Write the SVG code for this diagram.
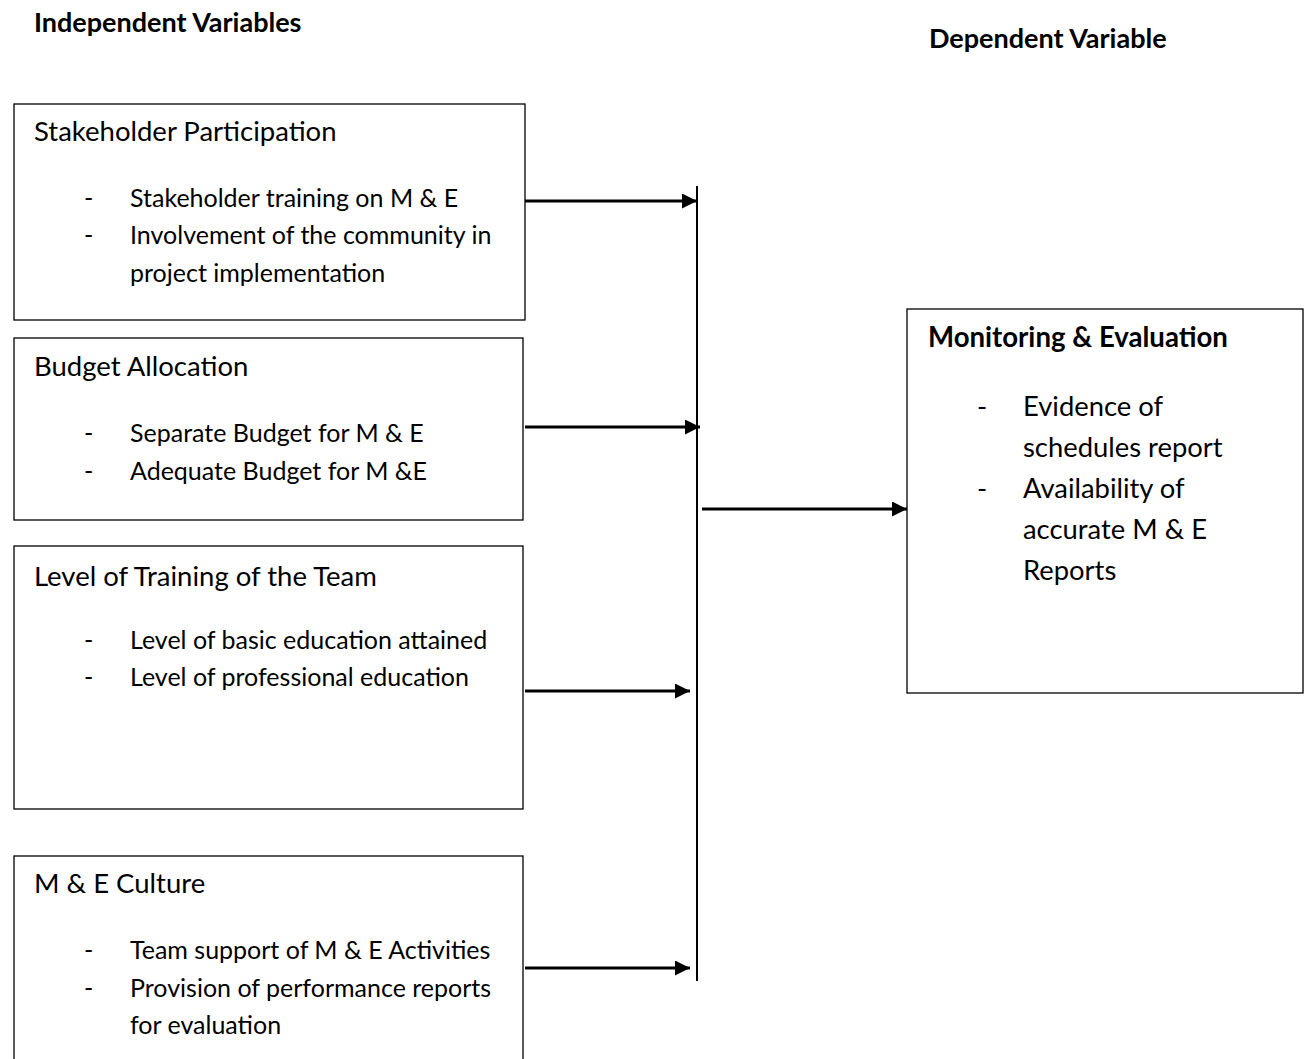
<svg xmlns="http://www.w3.org/2000/svg" width="1309" height="1059" viewBox="0 0 1309 1059">
<defs>
<style>
.box{fill:#fff;stroke:#000;stroke-width:1.3}
.t{font-family:Lato,"Open Sans",sans-serif;font-size:25px;fill:#000}
.tt{font-family:Lato,"Open Sans",sans-serif;font-size:27.5px;fill:#000}
.r{font-family:Lato,"Open Sans",sans-serif;font-size:27.4px;fill:#000}
.h{font-family:Lato,"Open Sans",sans-serif;font-size:27px;font-weight:bold;fill:#000}
.hr{font-family:Lato,"Open Sans",sans-serif;font-size:27.6px;font-weight:bold;fill:#000}
.c{stroke:#000;stroke-width:3;fill:none}
.v{stroke:#000;stroke-width:2;fill:none}
</style>
<marker id="ah" markerWidth="5" markerHeight="5" refX="5" refY="2.5" orient="auto" markerUnits="strokeWidth">
<path d="M0,0 L5,2.5 L0,5 Z" fill="#000"/>
</marker>
</defs>
<rect width="1309" height="1059" fill="#fff"/>
<text class="h" x="34" y="32">Independent Variables</text>
<text class="h" x="929" y="48">Dependent Variable</text>
<g id="stakeholder">
<rect class="box" x="14" y="104" width="511" height="216"/>
<text class="tt" x="34" y="141">Stakeholder Participation</text>
<text class="t" x="84" y="207">-</text><text class="t" x="130" y="207">Stakeholder training on M &amp; E</text>
<text class="t" x="84" y="244">-</text><text class="t" x="130" y="244">Involvement of the community in</text>
<text class="t" x="130" y="282">project implementation</text>
</g>
<g id="budget">
<rect class="box" x="14" y="338" width="509" height="182"/>
<text class="tt" x="34" y="376">Budget Allocation</text>
<text class="t" x="84" y="442">-</text><text class="t" x="130" y="442">Separate Budget for M &amp; E</text>
<text class="t" x="84" y="480">-</text><text class="t" x="130" y="480">Adequate Budget for M &amp;E</text>
</g>
<g id="training">
<rect class="box" x="14" y="546" width="509" height="263"/>
<text class="tt" x="34" y="586">Level of Training of the Team</text>
<text class="t" x="84" y="649">-</text><text class="t" x="130" y="649">Level of basic education attained</text>
<text class="t" x="84" y="686">-</text><text class="t" x="130" y="686">Level of professional education</text>
</g>
<g id="culture">
<rect class="box" x="14" y="856" width="509" height="220"/>
<text class="tt" x="34" y="893">M &amp; E Culture</text>
<text class="t" x="84" y="959">-</text><text class="t" x="130" y="959">Team support of M &amp; E Activities</text>
<text class="t" x="84" y="997">-</text><text class="t" x="130" y="997">Provision of performance reports</text>
<text class="t" x="130" y="1034">for evaluation</text>
</g>
<g id="me">
<rect class="box" x="907" y="309" width="396" height="384"/>
<text class="hr" x="928" y="347">Monitoring &amp; Evaluation</text>
<text class="r" x="977" y="416">-</text><text class="r" x="1023" y="416">Evidence of</text>
<text class="r" x="1023" y="457">schedules report</text>
<text class="r" x="977" y="498">-</text><text class="r" x="1023" y="498">Availability of</text>
<text class="r" x="1023" y="539">accurate M &amp; E</text>
<text class="r" x="1023" y="580">Reports</text>
</g>
<g id="connectors">
<line class="v" x1="697" y1="186" x2="697" y2="981"/>
<line class="c" x1="525" y1="201" x2="697" y2="201" marker-end="url(#ah)"/>
<line class="c" x1="525" y1="427" x2="700" y2="427" marker-end="url(#ah)"/>
<line class="c" x1="525" y1="691" x2="690" y2="691" marker-end="url(#ah)"/>
<line class="c" x1="525" y1="968" x2="690" y2="968" marker-end="url(#ah)"/>
<line class="c" x1="702" y1="509" x2="907" y2="509" marker-end="url(#ah)"/>
</g>
</svg>
